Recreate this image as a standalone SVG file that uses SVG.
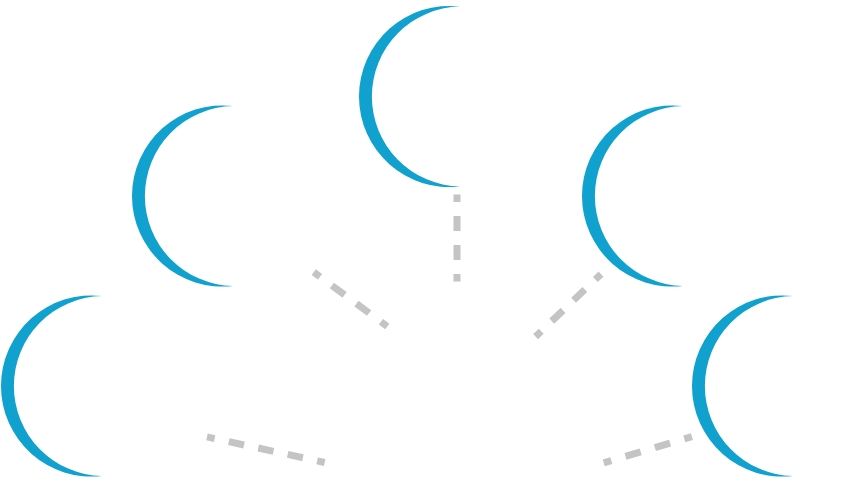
<svg xmlns="http://www.w3.org/2000/svg" xmlns:xlink="http://www.w3.org/1999/xlink" width="863" height="481" viewBox="0 0 863 481">
  <style>
    .crescent { fill: #10a1cf; stroke: none; }
    .conn { fill: none; stroke: #c4c4c4; stroke-width: 7; stroke-dasharray: 15 14; stroke-dashoffset: 7.5; stroke-linecap: butt; }
  </style>
  <defs>
    <path id="cres" d="M 0 0 A 90.6 90.6 0 1 0 0 180 A 90.02 90.02 0 0 1 0 0 Z"/>
  </defs>
  <rect width="863" height="481" fill="#ffffff"/>
  <g id="connectors">
    <path class="conn" pathLength="87" d="M 457 194.5 L 457 281.5"/>
    <path class="conn" pathLength="87" d="M 313.7 272.1 L 387.3 326.5"/>
    <path class="conn" pathLength="87" d="M 601 274.1 L 535.6 336.6"/>
    <path class="conn" pathLength="116" d="M 207 436.9 L 324.7 462.5"/>
    <path class="conn" pathLength="87" d="M 603.7 462.8 L 691.9 436.6"/>
  </g>
  <g id="node-top">
    <use xlink:href="#cres" href="#cres" class="crescent" transform="translate(460 6.5)"/>
  </g>
  <g id="node-left">
    <use xlink:href="#cres" href="#cres" class="crescent" transform="translate(233 106)"/>
  </g>
  <g id="node-right">
    <use xlink:href="#cres" href="#cres" class="crescent" transform="translate(683 106)"/>
  </g>
  <g id="node-bottom-left">
    <use xlink:href="#cres" href="#cres" class="crescent" transform="translate(102 296)"/>
  </g>
  <g id="node-bottom-right">
    <use xlink:href="#cres" href="#cres" class="crescent" transform="translate(793 296)"/>
  </g>
</svg>
